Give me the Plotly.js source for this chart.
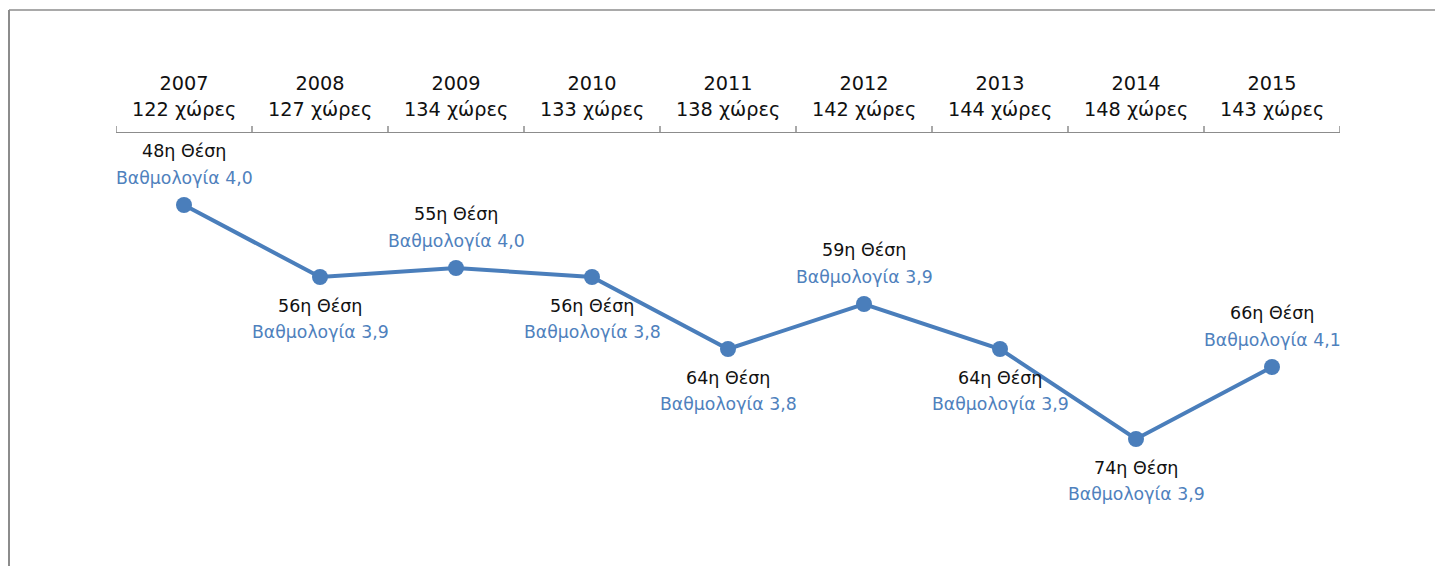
<!DOCTYPE html>
<html><head><meta charset="utf-8">
<script src="https://cdn.plot.ly/plotly-3.0.1.min.js"></script>
<style>html,body{margin:0;padding:0;background:#fff}</style>
</head><body>
<div id="chart" style="width:1435px;height:566px"></div>
<script>
const years = ['2007','2008','2009','2010','2011','2012','2013','2014','2015'];
const countries = [122,127,134,133,138,142,144,148,143];
const ranks = [48,56,55,56,64,59,64,74,66];
const scores = ['4,0','3,9','4,0','3,8','3,8','3,9','3,9','3,9','4,1'];
const labelAbove = [true,false,true,false,false,true,false,false,true];

const W=1435,H=566,ML=116,MR=95,MT=133,MB=33;
const pw=W-ML-MR, ph=H-MT-MB;
const px=v=>(v-ML)/pw, py=v=>(H-MB-v)/ph;

const blue='#4a7ebb', txtBlue='#4f81bd';
const font='DejaVu Sans, sans-serif';
const ann=[];
years.forEach((y,i)=>{
  ann.push({x:i,xref:'x',yref:'paper',y:py(110),text:countries[i]+' χώρες',showarrow:false,font:{family:font,size:19.3,color:'#111'},yanchor:'middle'});
  const up=labelAbove[i];
  ann.push({x:i,y:ranks[i],xref:'x',yref:'y',text:ranks[i]+'η Θέση',showarrow:false,yshift:up?54:-29,font:{family:font,size:17.5,color:'#111'},yanchor:'middle'});
  ann.push({x:i,y:ranks[i],xref:'x',yref:'y',text:'Βαθμολογία '+scores[i],showarrow:false,yshift:up?27:-55,font:{family:font,size:17.3,color:txtBlue},yanchor:'middle'});
});

const data=[{x:years.map((_,i)=>i),y:ranks,type:'scatter',mode:'lines+markers',
  line:{color:blue,width:4},marker:{color:blue,size:16},hoverinfo:'skip'}];

const layout={width:W,height:H,margin:{l:ML,r:MR,t:MT,b:MB},showlegend:false,
  paper_bgcolor:'#fff',plot_bgcolor:'#fff',
  xaxis:{side:'top',type:'linear',range:[-0.5,8.5],tickmode:'array',tickvals:years.map((_,i)=>i),ticktext:years,
    showgrid:false,zeroline:false,showline:true,linecolor:'#8c8c8c',linewidth:1.5,ticks:'',
    tickfont:{family:font,size:19.3,color:'#111'},ticklabelstandoff:34},
  yaxis:{range:[40+ph/9,40],showgrid:false,zeroline:false,showticklabels:false,showline:false,ticks:''},
  annotations:ann,
  shapes:[
    {type:'line',xref:'paper',yref:'paper',x0:px(9),x1:px(9),y0:py(10),y1:py(570),line:{color:'#8c8c8c',width:2}},
    {type:'line',xref:'paper',yref:'paper',x0:px(9),x1:px(1440),y0:py(10),y1:py(10),line:{color:'#8c8c8c',width:1.5}}
  ].concat([0,1,2,3,4,5,6,7,8,9].map(k=>({type:'line',xref:'x',yref:'paper',x0:k-0.5,x1:k-0.5,y0:py(133),y1:py(126),line:{color:'#8c8c8c',width:1.5}})))
};
Plotly.newPlot('chart',data,layout,{displayModeBar:false,staticPlot:true});
</script>
</body></html>
